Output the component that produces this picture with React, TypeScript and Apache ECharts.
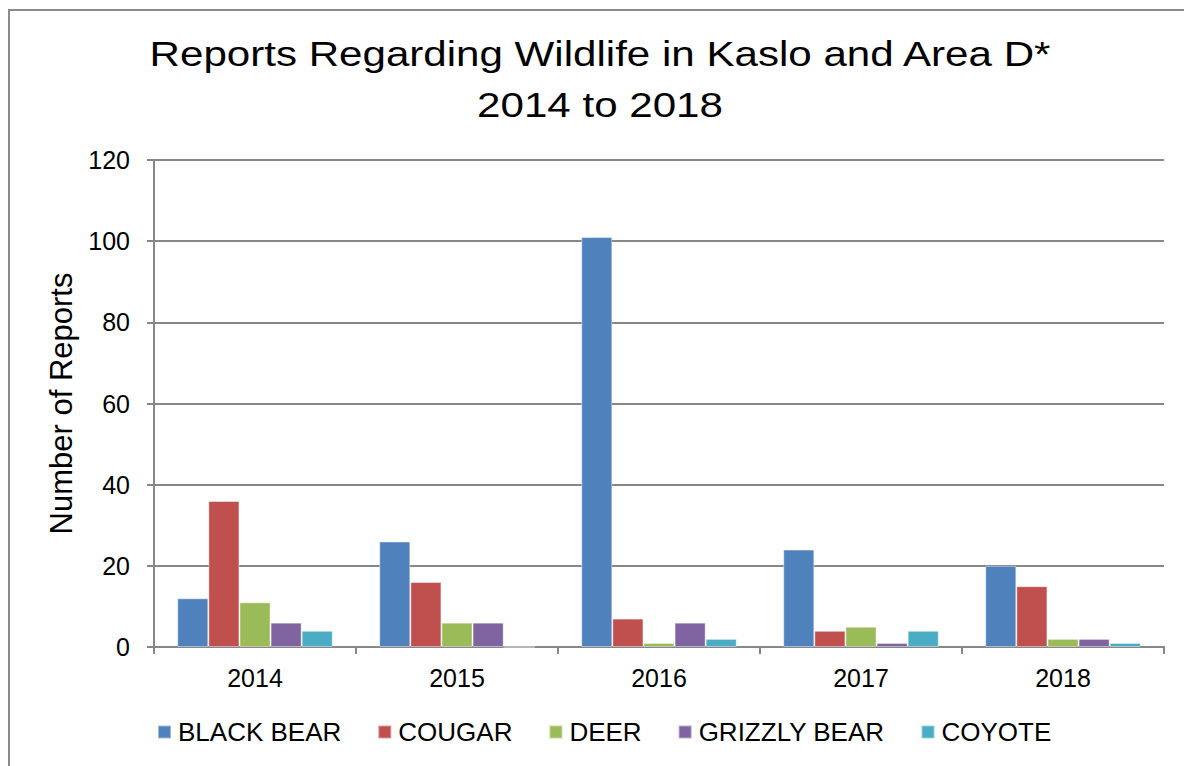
import React, { useEffect, useRef } from "react";
import * as echarts from "echarts";

const years = ["2014", "2015", "2016", "2017", "2018"];
const blackBear = [12, 26, 101, 24, 20];
const cougar = [36, 16, 7, 4, 15];
const deer = [11, 6, 1, 5, 2];
const grizzlyBear = [6, 6, 6, 1, 2];
const coyote = [4, 0, 2, 4, 1];

const seriesNames = ["BLACK BEAR", "COUGAR", "DEER", "GRIZZLY BEAR", "COYOTE"];
const seriesData = [blackBear, cougar, deer, grizzlyBear, coyote];
const colors = ["#4F81BD", "#C0504D", "#9BBB59", "#8064A2", "#4BACC6"];
const titleLines = ["Reports Regarding Wildlife in Kaslo and Area D*", "2014 to 2018"];

const FONT = "Arial, 'Liberation Sans', sans-serif";

export default function App() {
  const ref = useRef<HTMLDivElement>(null);
  useEffect(() => {
    if (!ref.current) return;
    const chart = echarts.init(ref.current, null, { renderer: "svg" });
    chart.setOption({
      animation: false,
      backgroundColor: "#ffffff",
      graphic: [
        {
          type: "rect",
          shape: { x: 9, y: 10, width: 1200, height: 800 },
          style: { fill: "none", stroke: "#8a8a8a", lineWidth: 2 },
          silent: true,
        },
        ...titleLines.map((t, i) => ({
          type: "text",
          x: 600,
          y: 54 + i * 51,
          scaleX: 1.17,
          scaleY: 1,
          style: {
            text: t,
            fill: "#000",
            font: `36px ${FONT}`,
            textAlign: "center",
            textVerticalAlign: "middle",
          },
          silent: true,
        })),
      ],
      legend: {
        data: seriesNames,
        left: 157,
        top: 719,
        padding: 0,
        itemWidth: 13,
        itemHeight: 13,
        itemGap: 36,
        icon: "rect",
        textStyle: { fontFamily: FONT, fontSize: 26, color: "#000", padding: [0, 0, 0, 2] },
      },
      grid: { left: 154, right: 20, top: 160, bottom: 119, containLabel: false },
      xAxis: {
        type: "category",
        data: years,
        axisLine: { lineStyle: { color: "#878787", width: 2 } },
        axisTick: { show: true, length: 7, alignWithLabel: false, lineStyle: { color: "#878787", width: 2 } },
        axisLabel: { margin: 18, fontFamily: FONT, fontSize: 25, color: "#000" },
      },
      yAxis: {
        type: "value",
        min: 0,
        max: 120,
        interval: 20,
        name: "Number of Reports",
        nameLocation: "middle",
        nameGap: 77,
        nameTextStyle: { fontFamily: FONT, fontSize: 31, color: "#000" },
        axisLine: { show: true, lineStyle: { color: "#878787", width: 2 } },
        axisTick: { show: true, length: 7, lineStyle: { color: "#878787", width: 2 } },
        axisLabel: { margin: 24, fontFamily: FONT, fontSize: 25, color: "#000" },
        splitLine: { show: true, lineStyle: { color: "#878787", width: 2 } },
      },
      series: seriesNames.map((name, i) => ({
        name,
        type: "bar",
        data: seriesData[i],
        barGap: "0%",
        barCategoryGap: "23%",
        itemStyle: {
          color: colors[i],
          borderColor: "rgba(255,255,255,0.45)",
          borderWidth: 1,
        },
      })),
    });
    return () => chart.dispose();
  }, []);
  return (
    <div
      ref={ref}
      style={{ position: "absolute", left: 0, top: 0, width: 1184, height: 766 }}
    />
  );
}
